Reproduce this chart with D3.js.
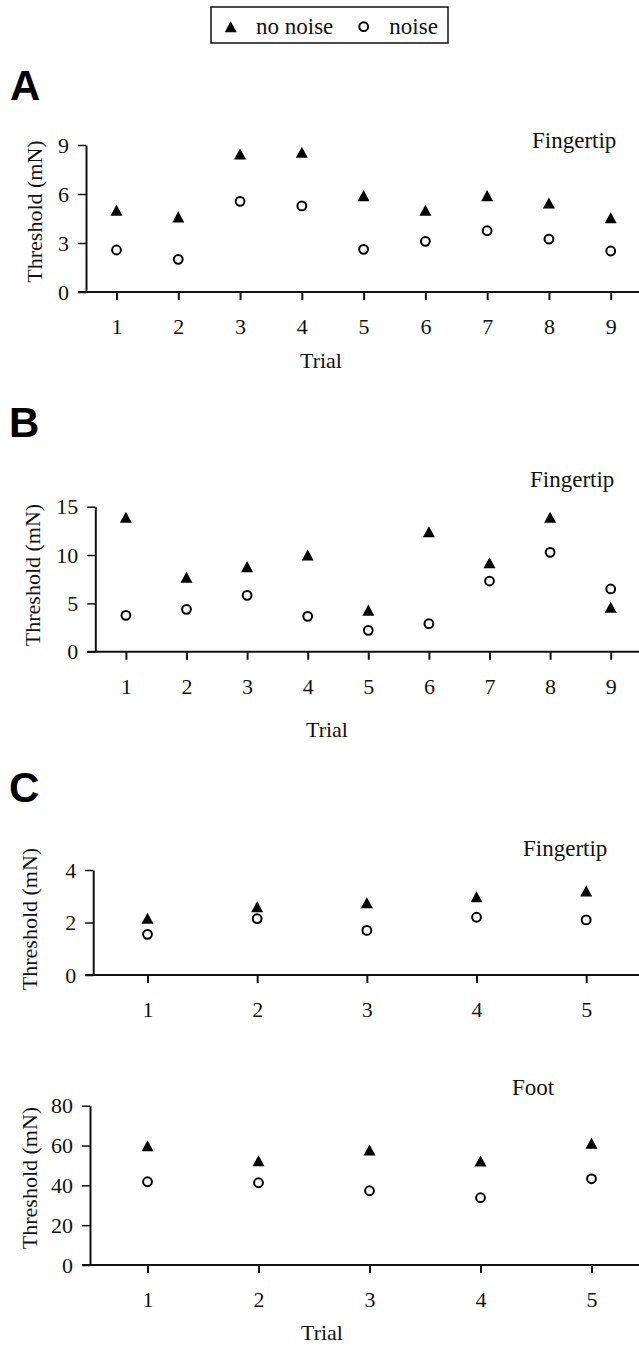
<!DOCTYPE html>
<html>
<head>
<meta charset="utf-8">
<script src="https://cdn.jsdelivr.net/npm/d3@7"></script>
<style>
	body { margin: 0; background: #fff; }
	svg { display: block; }
	.serif { font-family: "Liberation Serif", "Times New Roman", serif; fill: #111; }
	.axis text { font-family: "Liberation Serif", "Times New Roman", serif; font-size: 22px; fill: #111; }
	.axis path, .axis line { stroke: #111; }
</style>
</head>
<body>
<svg id="chart"></svg>
<script>
// values
var trials9 = [1, 2, 3, 4, 5, 6, 7, 8, 9];
var trials5 = [1, 2, 3, 4, 5];

var aNoNoise = [5.0, 4.6, 8.45, 8.55, 5.9, 5.0, 5.9, 5.45, 4.55];
var aNoise = [2.57, 2.0, 5.55, 5.27, 2.61, 3.1, 3.75, 3.24, 2.51];

var bNoNoise = [13.9, 7.7, 8.8, 10.0, 4.3, 12.4, 9.2, 13.9, 4.6];
var bNoise = [3.76, 4.38, 5.83, 3.66, 2.21, 2.9, 7.31, 10.28, 6.49];

var cFingerNoNoise = [2.16, 2.6, 2.75, 2.98, 3.2];
var cFingerNoise = [1.55, 2.15, 1.7, 2.2, 2.1];

var cFootNoNoise = [59.9, 52.4, 57.8, 52.2, 61.1];
var cFootNoise = [41.8, 41.3, 37.3, 33.8, 43.3];

var yTicksA = [0, 3, 6, 9];
var yTicksB = [0, 5, 10, 15];
var yTicksCFinger = [0, 2, 4];
var yTicksCFoot = [0, 20, 40, 60, 80];

var W = 639, H = 1348;

var svg = d3.select("#chart").attr("width", W).attr("height", H);
svg.append("rect").attr("width", W).attr("height", H).attr("fill", "#fff");

// triangle centred on its bounding box (like the original plot markers)
var boxTriangle = {
	draw: function(context, size) {
		var w = Math.sqrt(size), h = w * 0.92;
		context.moveTo(0, -h / 2);
		context.lineTo(w / 2, h / 2);
		context.lineTo(-w / 2, h / 2);
		context.closePath();
	}
};
var triangle = d3.symbol().type(boxTriangle).size(144);

function serifText(x, y, size, label) {
	return svg.append("text")
		.attr("class", "serif")
		.attr("x", x).attr("y", y)
		.style("font-size", size + "px")
		.text(label);
}

function drawPanel(p) {
	var y = d3.scaleLinear()
		.domain([0, d3.max(p.yTicks)])
		.range([p.bottom, p.top]);
	var x = d3.scaleLinear()
		.domain([p.trials[0], p.trials[p.trials.length - 1]])
		.range([p.firstX, p.lastX]);

	// y axis
	var yAxis = svg.append("g")
		.attr("class", "axis")
		.attr("transform", "translate(" + p.axisX + ",0)")
		.call(d3.axisLeft(y).tickValues(p.yTicks).tickFormat(d3.format("d"))
			.tickSize(8).tickSizeOuter(0).tickPadding(9));
	yAxis.select(".domain").attr("stroke-width", 2);
	yAxis.selectAll(".tick line").attr("stroke-width", 1.5);

	// x axis, the line runs on to the page edge
	var xAxis = svg.append("g")
		.attr("class", "axis")
		.attr("transform", "translate(0," + p.bottom + ")")
		.call(d3.axisBottom(x).tickValues(p.trials).tickSize(8).tickFormat(d3.format("d")));
	xAxis.select(".domain").remove();
	xAxis.selectAll(".tick line").attr("stroke-width", 2);
	xAxis.selectAll(".tick text").attr("y", 42).attr("dy", null);
	xAxis.append("line")
		.attr("x1", p.axisX - 8).attr("x2", W)
		.attr("y1", 0).attr("y2", 0)
		.attr("stroke", "#111")
		.attr("stroke-width", 2);

	// y label
	serifText(0, 0, 22, "Threshold (mN)")
		.attr("transform", "translate(" + p.yLabelX + "," + p.yLabelY + ") rotate(-90)")
		.attr("text-anchor", "middle")
		.attr("dy", "0.35em");

	if (p.trialY) {
		serifText(p.trialX, p.trialY, 22, "Trial").attr("text-anchor", "middle");
	}

	serifText(p.siteX, p.siteY, 23, p.site);

	if (p.letter) {
		svg.append("text")
			.attr("x", p.letterX).attr("y", p.letterY)
			.style("font-family", '"Liberation Sans", Arial, sans-serif')
			.style("font-weight", "bold")
			.style("font-size", "42px")
			.attr("fill", "#000")
			.text(p.letter);
	}

	// noise: open circles
	svg.append("g").selectAll("circle")
		.data(p.noise)
		.enter().append("circle")
		.attr("cx", function(d, i) { return x(p.trials[i]); })
		.attr("cy", function(d) { return y(d); })
		.attr("r", 4.4)
		.attr("fill", "#fff")
		.attr("stroke", "#000")
		.attr("stroke-width", 2);

	// no noise: filled triangles
	svg.append("g").selectAll("path")
		.data(p.noNoise)
		.enter().append("path")
		.attr("d", triangle)
		.attr("transform", function(d, i) { return "translate(" + x(p.trials[i]) + "," + y(d) + ")"; })
		.attr("fill", "#000");
}

drawPanel({
	trials: trials9, noNoise: aNoNoise, noise: aNoise, yTicks: yTicksA,
	axisX: 86, top: 145, bottom: 292, firstX: 116.5, lastX: 610.7,
	yLabelX: 34.5, yLabelY: 211.5, trialX: 321, trialY: 368,
	site: "Fingertip", siteX: 532, siteY: 148,
	letter: "A", letterX: 10, letterY: 99.5
});

drawPanel({
	trials: trials9, noNoise: bNoNoise, noise: bNoise, yTicks: yTicksB,
	axisX: 95.3, top: 506.7, bottom: 651.7, firstX: 125.9, lastX: 610.7,
	yLabelX: 32.5, yLabelY: 575, trialX: 327, trialY: 736.5,
	site: "Fingertip", siteX: 530, siteY: 487,
	letter: "B", letterX: 9, letterY: 436.5
});

drawPanel({
	trials: trials5, noNoise: cFingerNoNoise, noise: cFingerNoise, yTicks: yTicksCFinger,
	axisX: 93.2, top: 870, bottom: 975, firstX: 147.5, lastX: 586.2,
	yLabelX: 29, yLabelY: 919, trialX: 0, trialY: 0,
	site: "Fingertip", siteX: 523, siteY: 856,
	letter: "C", letterX: 9, letterY: 802
});

drawPanel({
	trials: trials5, noNoise: cFootNoNoise, noise: cFootNoise, yTicks: yTicksCFoot,
	axisX: 90, top: 1105.7, bottom: 1265, firstX: 147.5, lastX: 591.5,
	yLabelX: 29, yLabelY: 1178, trialX: 322, trialY: 1340,
	site: "Foot", siteX: 512, siteY: 1095,
	letter: null
});

// legend
var legend = svg.append("g");
legend.append("rect")
	.attr("x", 211).attr("y", 7)
	.attr("width", 237).attr("height", 36)
	.attr("fill", "#fff")
	.attr("stroke", "#111")
	.attr("stroke-width", 1.5);
legend.append("path")
	.attr("d", triangle)
	.attr("transform", "translate(230.7,26.7)")
	.attr("fill", "#000");
serifText(256, 34, 23, "no noise");
legend.append("circle")
	.attr("cx", 363.7).attr("cy", 26.7).attr("r", 4.4)
	.attr("fill", "#fff").attr("stroke", "#000").attr("stroke-width", 2);
serifText(389.3, 34, 23, "noise");
</script>
</body>
</html>
